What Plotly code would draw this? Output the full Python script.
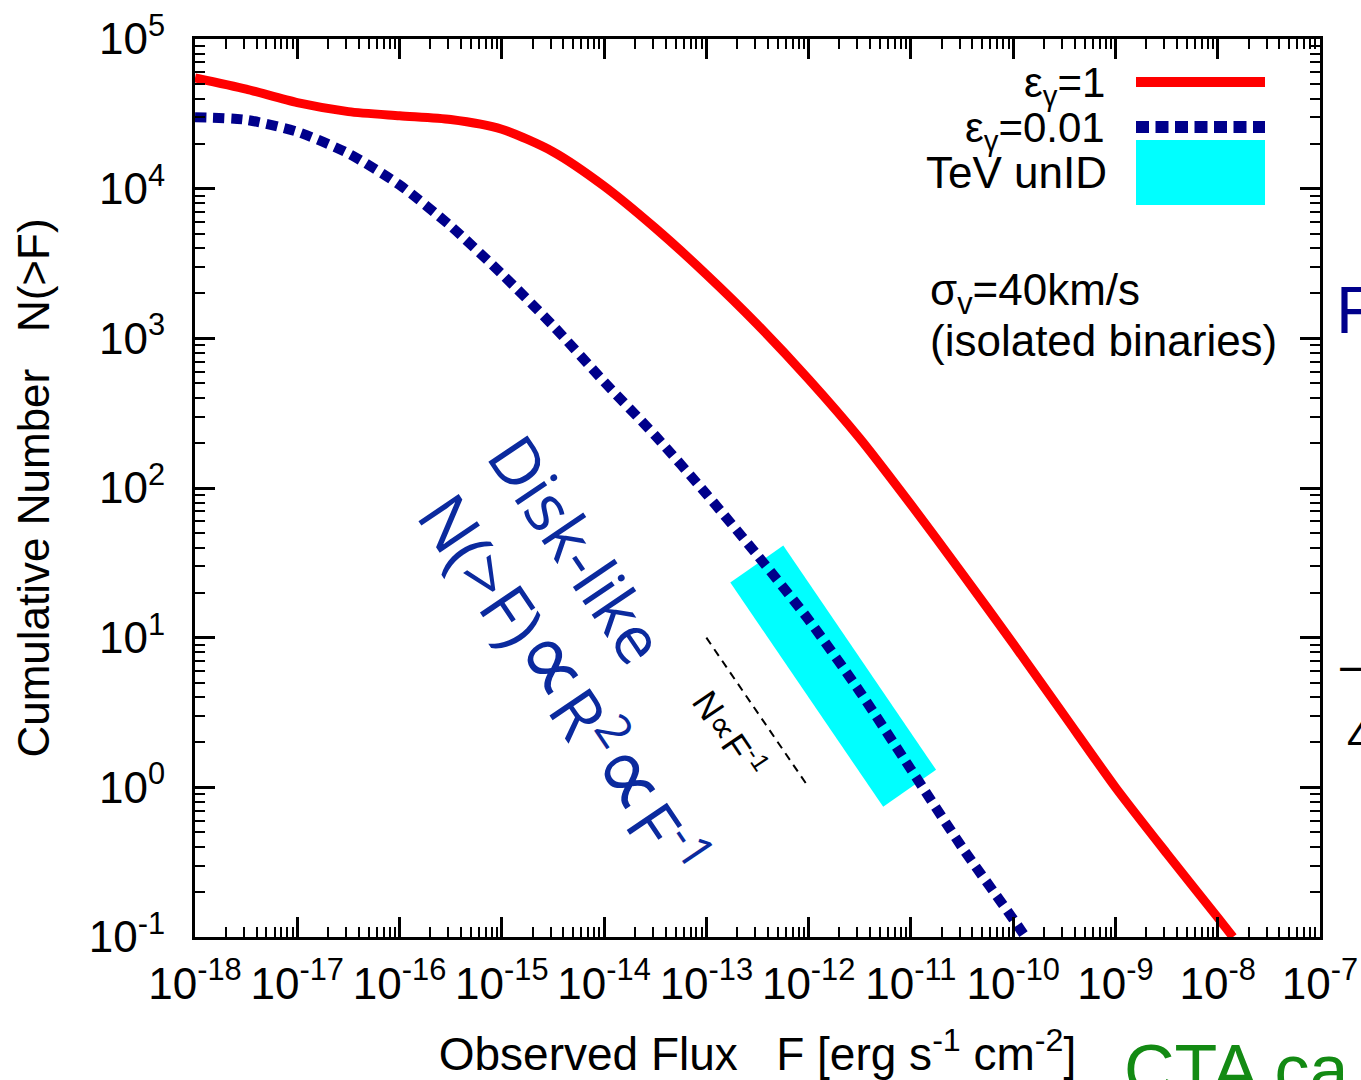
import numpy as np
import plotly.graph_objects as go

# ---------------- data ----------------
# eps_gamma = 1 (red solid)
red_log_flux = [-18.0, -17.5, -17.0, -16.5, -16.0, -15.5, -15.0, -14.5, -14.0,
                -13.5, -13.0, -12.5, -12.0, -11.5, -11.0, -10.5, -10.0, -9.5, -9.0,
                -8.5, -8.0, -7.85]
red_log_N = [4.74, 4.665, 4.575, 4.515, 4.487, 4.462, 4.397, 4.247, 4.017,
             3.737, 3.427, 3.092, 2.727, 2.332, 1.89, 1.43, 0.96, 0.48, 0.0,
             -0.44, -0.87, -1.0]

# eps_gamma = 0.01 (navy dotted)
blue_log_flux = [-18.0, -17.5, -17.0, -16.5, -16.0, -15.5, -15.0, -14.5, -14.0, -13.5,
                 -13.0, -12.5, -12.0, -11.5, -11.0, -10.5, -10.0, -9.88]
blue_log_N = [4.478, 4.46, 4.38, 4.235, 4.025, 3.75, 3.43, 3.085, 2.71, 2.35,
              1.96, 1.55, 1.12, 0.64, 0.12, -0.40, -0.88, -1.0]

# TeV unID band (tilted box corners)
band_log_flux = [-12.766, -12.248, -10.754, -11.271]
band_log_N = [1.368, 1.615, 0.117, -0.130]

# N ∝ F^-1 reference segment
ref_flux = [1e-13, 1e-12]
ref_N = [10.0, 1.0]

x_tick_exp = list(range(-18, -6))
y_tick_exp = list(range(-1, 6))

# ---------------- figure ----------------
W, H = 1361, 1080
L, R, T, B = 195, 41, 39, 143
PW, PH = W - L - R, H - T - B


def px(xp):
    return (xp - L) / PW


def py(yp):
    return (H - B - yp) / PH


FONT = "Liberation Sans, Arial, Helvetica, sans-serif"
NAVY = "#00008B"
RED = "#FF0000"
CYAN = "#00FFFF"
TXTBLUE = "#0B2A9E"

fig = go.Figure()

bx = [10 ** v for v in band_log_flux] + [10 ** band_log_flux[0]]
by = [10 ** v for v in band_log_N] + [10 ** band_log_N[0]]
fig.add_trace(go.Scatter(x=bx, y=by, mode="lines", fill="toself", fillcolor=CYAN,
                         line=dict(width=0, color=CYAN), name="TeV unID",
                         hoverinfo="skip"))

fig.add_trace(go.Scatter(x=ref_flux, y=ref_N, mode="lines",
                         line=dict(color="black", width=2, dash="8px,6px"),
                         name="N∝F^-1"))

fig.add_trace(go.Scatter(x=[10 ** v for v in blue_log_flux],
                         y=[10 ** v for v in blue_log_N], mode="lines",
                         line=dict(color=NAVY, width=10, dash="11px,7px", shape="spline",
                                   smoothing=0.7),
                         name="εγ=0.01"))

fig.add_trace(go.Scatter(x=[10 ** v for v in red_log_flux],
                         y=[10 ** v for v in red_log_N], mode="lines",
                         line=dict(color=RED, width=9, shape="spline", smoothing=0.7),
                         name="εγ=1"))

x_minor = [m * 10.0 ** k for k in range(-18, -7) for m in range(2, 10)]
y_minor = [m * 10.0 ** k for k in range(-1, 5) for m in range(2, 10)]

axis_common = dict(
    type="log", showgrid=False, zeroline=False, showline=True, linewidth=3,
    linecolor="black", mirror="allticks", ticks="inside", ticklen=20,
    tickwidth=2.5, tickcolor="black", automargin=False,
    tickfont=dict(family=FONT, size=44, color="black"),
)

fig.update_xaxes(
    range=[-18, -7],
    tickvals=[10.0 ** k for k in x_tick_exp],
    ticktext=[f"10<sup>{k}</sup>" for k in x_tick_exp],
    ticklabelstandoff=6,
    minor=dict(tickvals=x_minor, ticks="inside", ticklen=10, tickwidth=2,
               tickcolor="black", showgrid=False),
    title=dict(text="Observed Flux\u00a0\u00a0\u00a0F [erg s<sup>-1</sup> cm<sup>-2</sup>]",
               font=dict(family=FONT, size=46, color="black"), standoff=32),
    **axis_common,
)
fig.update_yaxes(
    range=[-1, 5],
    tickvals=[10.0 ** k for k in y_tick_exp],
    ticktext=[f"10<sup>{k}</sup>" for k in y_tick_exp],
    ticklabelstandoff=18,
    minor=dict(tickvals=y_minor, ticks="inside", ticklen=10, tickwidth=2,
               tickcolor="black", showgrid=False),
    title=dict(text="Cumulative Number\u00a0\u00a0\u00a0N(>F)",
               font=dict(family=FONT, size=44, color="black"), standoff=26),
    **axis_common,
)

shapes = [
    dict(type="line", xref="paper", yref="paper", x0=px(1136), x1=px(1265),
         y0=py(82), y1=py(82), line=dict(color=RED, width=10)),
    dict(type="line", xref="paper", yref="paper", x0=px(1136), x1=px(1265),
         y0=py(127), y1=py(127), line=dict(color=NAVY, width=12, dash="13px,6.5px")),
    dict(type="rect", xref="paper", yref="paper", x0=px(1136), x1=px(1265),
         y0=py(205), y1=py(140), line=dict(width=0), fillcolor=CYAN),
]

ann = []


def add_text(text, x, y, size, color="black", angle=0, xanchor="center",
             yanchor="middle", family=FONT):
    ann.append(dict(text=text, x=px(x), y=py(y), xref="paper", yref="paper",
                    showarrow=False, textangle=angle, xanchor=xanchor,
                    yanchor=yanchor, font=dict(family=family, size=size, color=color)))


add_text("ε<sub>γ</sub>=1", 1107, 86, 42, xanchor="right")
add_text("ε<sub>γ</sub>=0.01", 1107, 131, 42, xanchor="right")
add_text("TeV unID", 1109, 172, 44, xanchor="right")
add_text("σ<sub>v</sub>=40km/s", 928, 293, 44, xanchor="left")
add_text("(isolated binaries)", 928, 340, 44, xanchor="left")

DISK_FONT = "Open Sans, Lato, sans-serif"
add_text("Disk-like", 578, 548, 66, color=TXTBLUE, angle=56, family=DISK_FONT)
add_text("N(>F)<span style='font-size:96px'>∝</span>R<sup>2</sup>"
         "<span style='font-size:96px'>∝</span>F<sup>-1</sup>",
         572, 681, 68, color=TXTBLUE, angle=56, family=DISK_FONT)
add_text("N∝F<sup>-1</sup>", 730, 733, 36, angle=56)

# fragments of the surrounding slide
add_text("CTA ca", 1122, 1070, 70, color="#138A13", xanchor="left")
add_text("F", 1334, 310, 66, color=NAVY, xanchor="left")
add_text("−", 1336, 668, 44, xanchor="left")
add_text("4", 1345, 736, 44, xanchor="left")

fig.update_layout(
    width=W, height=H,
    margin=dict(l=L, r=R, t=T, b=B),
    paper_bgcolor="white", plot_bgcolor="white",
    showlegend=False,
    shapes=shapes, annotations=ann,
    font=dict(family=FONT, color="black"),
)

fig.write_html("out.html")
